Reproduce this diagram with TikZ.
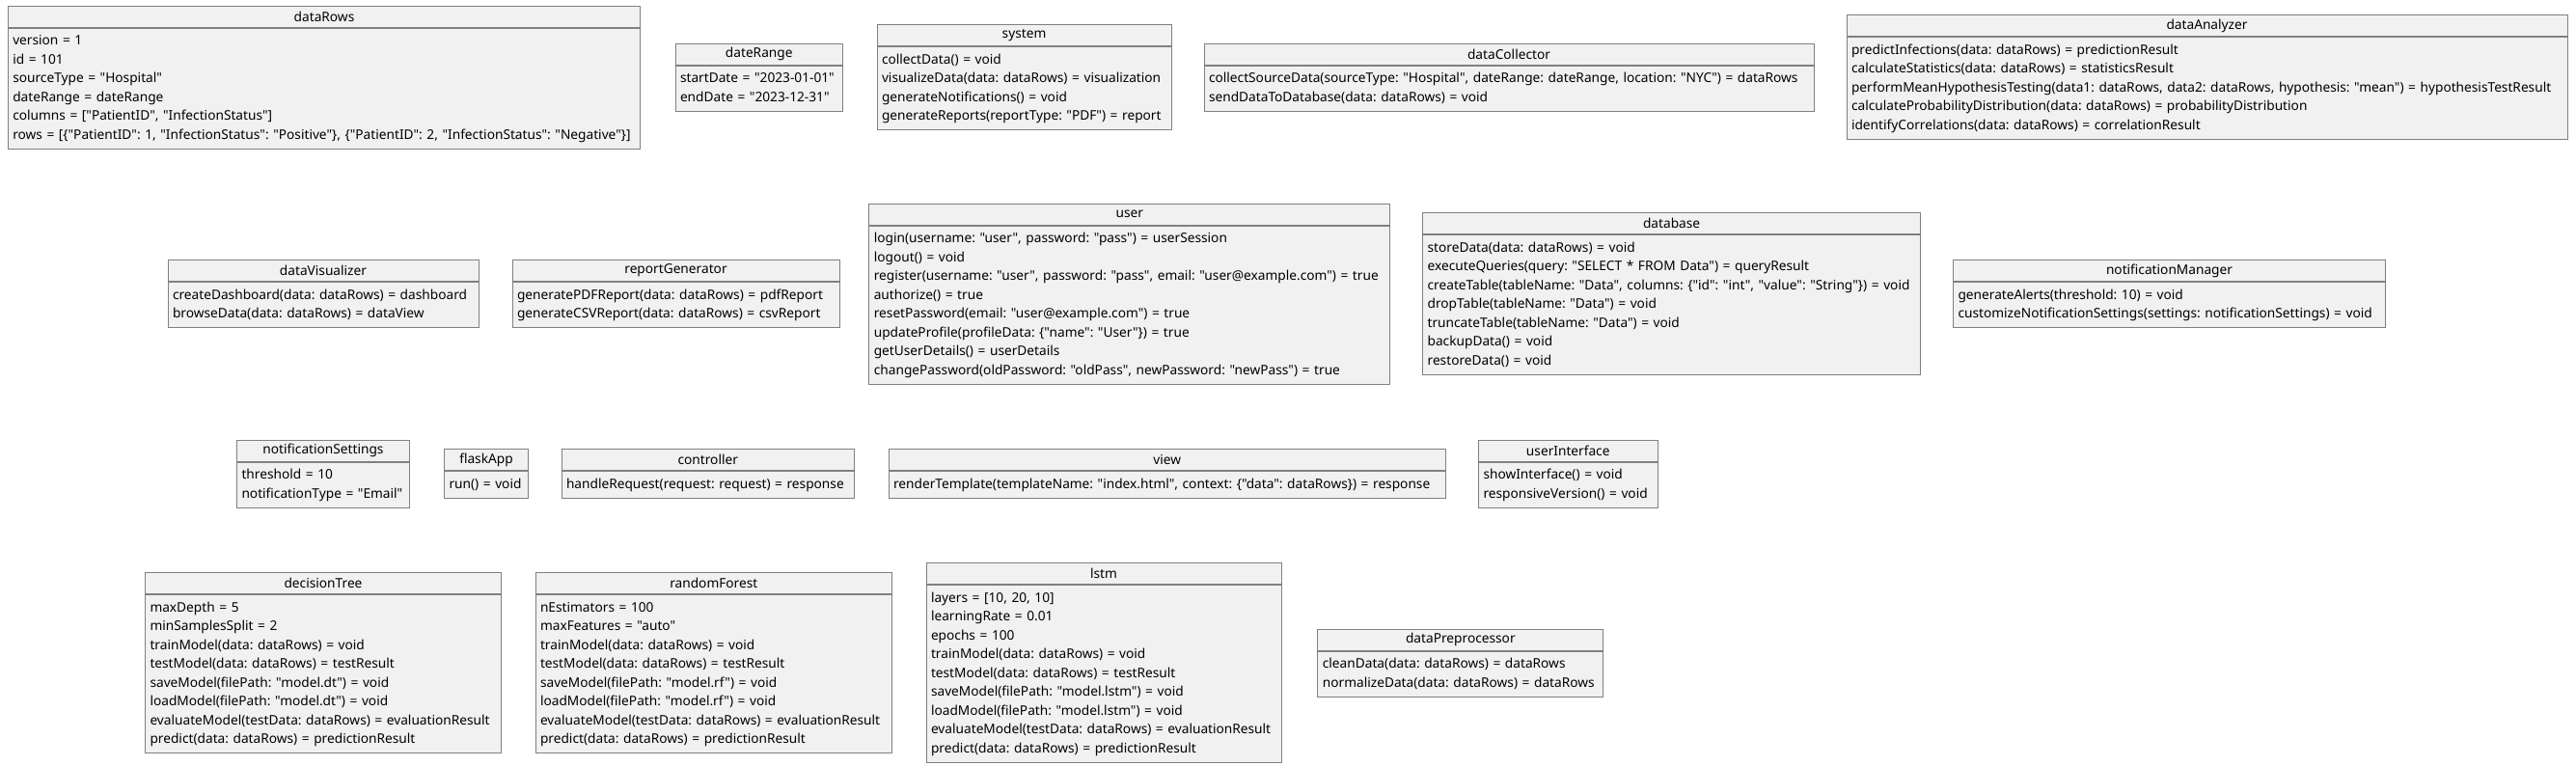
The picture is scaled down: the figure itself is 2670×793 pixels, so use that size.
\documentclass[tikz,border=0pt]{standalone}
\usepackage{fontspec}
\setmainfont{Noto Sans}[Ligatures=TeXOff]
\definecolor{objfill}{HTML}{F1F1F1}
\definecolor{objline}{HTML}{808080}
\newcommand\objlines[1]{\begin{tabular}{@{}l@{}}#1\end{tabular}}
\tikzset{
  objtitle/.style={draw=objline, fill=objfill, line width=1pt, anchor=north,
    minimum height=22pt, inner sep=0pt, font=\fontsize{13.7}{19.5}\selectfont\frenchspacing},
  objbody/.style={draw=objline, fill=objfill, line width=1pt, anchor=north,
    inner xsep=5pt, inner ysep=0pt, align=left, font=\fontsize{13.7}{19.5}\selectfont\frenchspacing},
}
\begin{document}
\begin{tikzpicture}[x=1pt, y=-1pt]
\fill[white] (0,0) rectangle (2670,793);
\useasboundingbox (0,0) rectangle (2670,793);

% Row 1
\node[objtitle, minimum width=655.5pt] (dataRowsT) at (336,5.5) {dataRows};
\node[objbody, text width=645.5pt, minimum height=125pt] (dataRows) at (dataRowsT.south)
  {\objlines{version = 1\\ id = 101\\ sourceType = "Hospital"\\ dateRange = dateRange\\ columns = ["PatientID", "InfectionStatus"]\\ rows = [\{"PatientID": 1, "InfectionStatus": "Positive"\}, \{"PatientID": 2, "InfectionStatus": "Negative"\}]}};

\node[objtitle, minimum width=173.5pt] (dateRangeT) at (786.75,44.5) {dateRange};
\node[objbody, text width=163.5pt, minimum height=47pt] (dateRange) at (dateRangeT.south)
  {\objlines{startDate = "2023-01-01"\\ endDate = "2023-12-31"}};

\node[objtitle, minimum width=305pt] (systemT) at (1061.5,25) {system};
\node[objbody, text width=295pt, minimum height=86pt] (system) at (systemT.south)
  {\objlines{collectData() = void\\ visualizeData(data: dataRows) = visualization\\ generateNotifications() = void\\ generateReports(reportType: "PDF") = report}};

\node[objtitle, minimum width=632pt] (dataCollectorT) at (1564,44.5) {dataCollector};
\node[objbody, text width=622pt, minimum height=47pt] (dataCollector) at (dataCollectorT.south)
  {\objlines{collectSourceData(sourceType: "Hospital", dateRange: dateRange, location: "NYC") = dataRows\\ sendDataToDatabase(data: dataRows) = void}};

\node[objtitle, minimum width=747pt] (dataAnalyzerT) at (2287.5,15.25) {dataAnalyzer};
\node[objbody, text width=737pt, minimum height=105.5pt] (dataAnalyzer) at (dataAnalyzerT.south)
  {\objlines{predictInfections(data: dataRows) = predictionResult\\ calculateStatistics(data: dataRows) = statisticsResult\\ performMeanHypothesisTesting(data1: dataRows, data2: dataRows, hypothesis: "mean") = hypothesisTestResult\\ calculateProbabilityDistribution(data: dataRows) = probabilityDistribution\\ identifyCorrelations(data: dataRows) = correlationResult}};

% Row 2
\node[objtitle, minimum width=322pt] (dataVisualizerT) at (335,269) {dataVisualizer};
\node[objbody, text width=312pt, minimum height=47pt] (dataVisualizer) at (dataVisualizerT.south)
  {\objlines{createDashboard(data: dataRows) = dashboard\\ browseData(data: dataRows) = dataView}};

\node[objtitle, minimum width=339pt] (reportGeneratorT) at (700.5,269) {reportGenerator};
\node[objbody, text width=329pt, minimum height=47pt] (reportGenerator) at (reportGeneratorT.south)
  {\objlines{generatePDFReport(data: dataRows) = pdfReport\\ generateCSVReport(data: dataRows) = csvReport}};

\node[objtitle, minimum width=540pt] (userT) at (1170.8,210.5) {user};
\node[objbody, text width=530pt, minimum height=164pt] (user) at (userT.south)
  {\objlines{login(username: "user", password: "pass") = userSession\\ logout() = void\\ register(username: "user", password: "pass", email: "user@example.com") = true\\ authorize() = true\\ resetPassword(email: "user@example.com") = true\\ updateProfile(profileData: \{"name": "User"\}) = true\\ getUserDetails() = userDetails\\ changePassword(oldPassword: "oldPass", newPassword: "newPass") = true}};

\node[objtitle, minimum width=516pt] (databaseT) at (1732.6,220.25) {database};
\node[objbody, text width=506pt, minimum height=144.5pt] (database) at (databaseT.south)
  {\objlines{storeData(data: dataRows) = void\\ executeQueries(query: "SELECT * FROM Data") = queryResult\\ createTable(tableName: "Data", columns: \{"id": "int", "value": "String"\}) = void\\ dropTable(tableName: "Data") = void\\ truncateTable(tableName: "Data") = void\\ backupData() = void\\ restoreData() = void}};

\node[objtitle, minimum width=448pt] (notificationManagerT) at (2248.5,269) {notificationManager};
\node[objbody, text width=438pt, minimum height=47pt] (notificationManager) at (notificationManagerT.south)
  {\objlines{generateAlerts(threshold: 10) = void\\ customizeNotificationSettings(settings: notificationSettings) = void}};

% Row 3
\node[objtitle, minimum width=179pt] (notificationSettingsT) at (335,455.5) {notificationSettings};
\node[objbody, text width=169pt, minimum height=47pt] (notificationSettings) at (notificationSettingsT.south)
  {\objlines{threshold = 10\\ notificationType = "Email"}};

\node[objtitle, minimum width=87pt] (flaskAppT) at (504,465.25) {flaskApp};
\node[objbody, text width=77pt, minimum height=27.5pt] (flaskApp) at (flaskAppT.south)
  {\objlines{run() = void}};

\node[objtitle, minimum width=303.5pt] (controllerT) at (733.75,465.25) {controller};
\node[objbody, text width=293.5pt, minimum height=27.5pt] (controller) at (controllerT.south)
  {\objlines{handleRequest(request: request) = response}};

\node[objtitle, minimum width=577.5pt] (viewT) at (1209.75,465.25) {view};
\node[objbody, text width=567.5pt, minimum height=27.5pt] (view) at (viewT.south)
  {\objlines{renderTemplate(templateName: "index.html", context: \{"data": dataRows\}) = response}};

\node[objtitle, minimum width=185.5pt] (userInterfaceT) at (1625.25,455.5) {userInterface};
\node[objbody, text width=175.5pt, minimum height=47pt] (userInterface) at (userInterfaceT.south)
  {\objlines{showInterface() = void\\ responsiveVersion() = void}};

% Row 4
\node[objtitle, minimum width=369pt] (decisionTreeT) at (335,593) {decisionTree};
\node[objbody, text width=359pt, minimum height=164pt] (decisionTree) at (decisionTreeT.south)
  {\objlines{maxDepth = 5\\ minSamplesSplit = 2\\ trainModel(data: dataRows) = void\\ testModel(data: dataRows) = testResult\\ saveModel(filePath: "model.dt") = void\\ loadModel(filePath: "model.dt") = void\\ evaluateModel(testData: dataRows) = evaluationResult\\ predict(data: dataRows) = predictionResult}};

\node[objtitle, minimum width=369.6pt] (randomForestT) at (739.8,593) {randomForest};
\node[objbody, text width=359.6pt, minimum height=164pt] (randomForest) at (randomForestT.south)
  {\objlines{nEstimators = 100\\ maxFeatures = "auto"\\ trainModel(data: dataRows) = void\\ testModel(data: dataRows) = testResult\\ saveModel(filePath: "model.rf") = void\\ loadModel(filePath: "model.rf") = void\\ evaluateModel(testData: dataRows) = evaluationResult\\ predict(data: dataRows) = predictionResult}};

\node[objtitle, minimum width=368pt] (lstmT) at (1144,583.25) {lstm};
\node[objbody, text width=358pt, minimum height=183.5pt] (lstm) at (lstmT.south)
  {\objlines{layers = [10, 20, 10]\\ learningRate = 0.01\\ epochs = 100\\ trainModel(data: dataRows) = void\\ testModel(data: dataRows) = testResult\\ saveModel(filePath: "model.lstm") = void\\ loadModel(filePath: "model.lstm") = void\\ evaluateModel(testData: dataRows) = evaluationResult\\ predict(data: dataRows) = predictionResult}};

\node[objtitle, minimum width=296pt] (dataPreprocessorT) at (1513.85,651.5) {dataPreprocessor};
\node[objbody, text width=286pt, minimum height=47pt] (dataPreprocessor) at (dataPreprocessorT.south)
  {\objlines{cleanData(data: dataRows) = dataRows\\ normalizeData(data: dataRows) = dataRows}};
\end{tikzpicture}
\end{document}
